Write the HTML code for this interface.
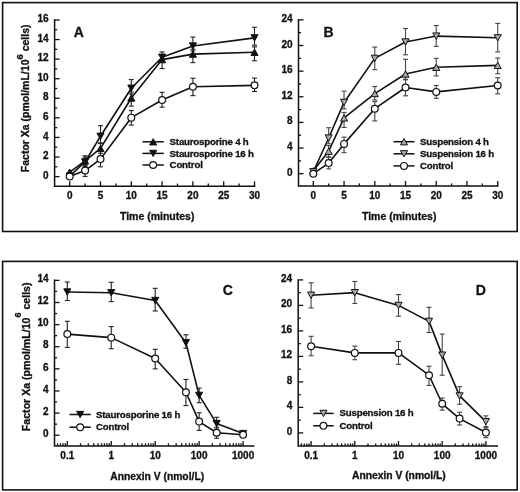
<!DOCTYPE html>
<html><head><meta charset="utf-8"><style>
html,body{margin:0;padding:0;background:#fff;}
svg{display:block;will-change:transform;}
text{font-family:"Liberation Sans",sans-serif;font-weight:bold;fill:#111;stroke:#111;stroke-width:0.3px;}
</style></head><body>
<svg width="520" height="492" viewBox="0 0 520 492">
<rect width="520" height="492" fill="#fff"/>
<rect x="2.6" y="2.6" width="514.6" height="228.9" fill="none" stroke="#111" stroke-width="1.6"/>
<rect x="2.6" y="261.4" width="514.6" height="228.5" fill="none" stroke="#111" stroke-width="1.6"/>
<path d="M54.60,19.96 L54.60,186.20 L254.60,186.20" fill="none" stroke="#111" stroke-width="1.5" stroke-linecap="square"/>
<line x1="54.60" y1="176.60" x2="59.60" y2="176.60" stroke="#111" stroke-width="1.3"/>
<text x="48.60" y="178.70" font-size="10" text-anchor="end" >0</text>
<line x1="54.60" y1="157.02" x2="59.60" y2="157.02" stroke="#111" stroke-width="1.3"/>
<text x="48.60" y="159.12" font-size="10" text-anchor="end" >2</text>
<line x1="54.60" y1="137.44" x2="59.60" y2="137.44" stroke="#111" stroke-width="1.3"/>
<text x="48.60" y="139.54" font-size="10" text-anchor="end" >4</text>
<line x1="54.60" y1="117.86" x2="59.60" y2="117.86" stroke="#111" stroke-width="1.3"/>
<text x="48.60" y="119.96" font-size="10" text-anchor="end" >6</text>
<line x1="54.60" y1="98.28" x2="59.60" y2="98.28" stroke="#111" stroke-width="1.3"/>
<text x="48.60" y="100.38" font-size="10" text-anchor="end" >8</text>
<line x1="54.60" y1="78.70" x2="59.60" y2="78.70" stroke="#111" stroke-width="1.3"/>
<text x="48.60" y="80.80" font-size="10" text-anchor="end" >10</text>
<line x1="54.60" y1="59.12" x2="59.60" y2="59.12" stroke="#111" stroke-width="1.3"/>
<text x="48.60" y="61.22" font-size="10" text-anchor="end" >12</text>
<line x1="54.60" y1="39.54" x2="59.60" y2="39.54" stroke="#111" stroke-width="1.3"/>
<text x="48.60" y="41.64" font-size="10" text-anchor="end" >14</text>
<line x1="54.60" y1="19.96" x2="59.60" y2="19.96" stroke="#111" stroke-width="1.3"/>
<text x="48.60" y="22.06" font-size="10" text-anchor="end" >16</text>
<line x1="54.60" y1="166.81" x2="57.20" y2="166.81" stroke="#111" stroke-width="1.3"/>
<line x1="54.60" y1="147.23" x2="57.20" y2="147.23" stroke="#111" stroke-width="1.3"/>
<line x1="54.60" y1="127.65" x2="57.20" y2="127.65" stroke="#111" stroke-width="1.3"/>
<line x1="54.60" y1="108.07" x2="57.20" y2="108.07" stroke="#111" stroke-width="1.3"/>
<line x1="54.60" y1="88.49" x2="57.20" y2="88.49" stroke="#111" stroke-width="1.3"/>
<line x1="54.60" y1="68.91" x2="57.20" y2="68.91" stroke="#111" stroke-width="1.3"/>
<line x1="54.60" y1="49.33" x2="57.20" y2="49.33" stroke="#111" stroke-width="1.3"/>
<line x1="54.60" y1="29.75" x2="57.20" y2="29.75" stroke="#111" stroke-width="1.3"/>
<line x1="69.70" y1="186.20" x2="69.70" y2="181.20" stroke="#111" stroke-width="1.3"/>
<text x="69.70" y="198.80" font-size="10" text-anchor="middle" >0</text>
<line x1="100.50" y1="186.20" x2="100.50" y2="181.20" stroke="#111" stroke-width="1.3"/>
<text x="100.50" y="198.80" font-size="10" text-anchor="middle" >5</text>
<line x1="131.30" y1="186.20" x2="131.30" y2="181.20" stroke="#111" stroke-width="1.3"/>
<text x="131.30" y="198.80" font-size="10" text-anchor="middle" >10</text>
<line x1="162.10" y1="186.20" x2="162.10" y2="181.20" stroke="#111" stroke-width="1.3"/>
<text x="162.10" y="198.80" font-size="10" text-anchor="middle" >15</text>
<line x1="192.90" y1="186.20" x2="192.90" y2="181.20" stroke="#111" stroke-width="1.3"/>
<text x="192.90" y="198.80" font-size="10" text-anchor="middle" >20</text>
<line x1="223.70" y1="186.20" x2="223.70" y2="181.20" stroke="#111" stroke-width="1.3"/>
<text x="223.70" y="198.80" font-size="10" text-anchor="middle" >25</text>
<line x1="254.50" y1="186.20" x2="254.50" y2="181.20" stroke="#111" stroke-width="1.3"/>
<text x="254.50" y="198.80" font-size="10" text-anchor="middle" >30</text>
<line x1="85.10" y1="186.20" x2="85.10" y2="183.60" stroke="#111" stroke-width="1.3"/>
<line x1="115.90" y1="186.20" x2="115.90" y2="183.60" stroke="#111" stroke-width="1.3"/>
<line x1="146.70" y1="186.20" x2="146.70" y2="183.60" stroke="#111" stroke-width="1.3"/>
<line x1="177.50" y1="186.20" x2="177.50" y2="183.60" stroke="#111" stroke-width="1.3"/>
<line x1="208.30" y1="186.20" x2="208.30" y2="183.60" stroke="#111" stroke-width="1.3"/>
<line x1="239.10" y1="186.20" x2="239.10" y2="183.60" stroke="#111" stroke-width="1.3"/>
<text x="157.20" y="220.00" font-size="10.5" text-anchor="middle" >Time (minutes)</text>
<text transform="translate(29.40,98.30) rotate(-90)" font-size="10.5" text-anchor="middle">Factor Xa (pmol/mL/10<tspan font-size="9.5" dy="-6.6">6</tspan><tspan dy="6.6"> cells)</tspan></text>
<text x="73.80" y="37.00" font-size="14" text-anchor="start" >A</text>
<path d="M69.70,172.19 L85.10,160.94 L100.50,148.40 L131.30,97.99 L162.10,59.61 L192.90,54.13 L254.50,52.27" fill="none" stroke="#111" stroke-width="1.6" stroke-linejoin="round"/>
<path d="M69.70,176.11 L85.10,161.91 L100.50,136.27 L131.30,88.20 L162.10,57.26 L192.90,46.00 L254.50,37.88" fill="none" stroke="#111" stroke-width="1.6" stroke-linejoin="round"/>
<path d="M69.70,176.60 L85.10,170.53 L100.50,159.08 L131.30,117.66 L162.10,99.94 L192.90,86.73 L254.50,85.36" fill="none" stroke="#111" stroke-width="1.6" stroke-linejoin="round"/>
<line x1="85.10" y1="155.75" x2="85.10" y2="165.83" stroke="#222" stroke-width="1.1"/>
<line x1="82.60" y1="155.75" x2="87.60" y2="155.75" stroke="#222" stroke-width="1.1"/>
<line x1="82.60" y1="165.83" x2="87.60" y2="165.83" stroke="#222" stroke-width="1.1"/>
<line x1="100.50" y1="143.51" x2="100.50" y2="153.30" stroke="#222" stroke-width="1.1"/>
<line x1="98.00" y1="143.51" x2="103.00" y2="143.51" stroke="#222" stroke-width="1.1"/>
<line x1="98.00" y1="153.30" x2="103.00" y2="153.30" stroke="#222" stroke-width="1.1"/>
<line x1="131.30" y1="92.11" x2="131.30" y2="106.11" stroke="#222" stroke-width="1.1"/>
<line x1="128.80" y1="92.11" x2="133.80" y2="92.11" stroke="#222" stroke-width="1.1"/>
<line x1="128.80" y1="106.11" x2="133.80" y2="106.11" stroke="#222" stroke-width="1.1"/>
<line x1="162.10" y1="54.71" x2="162.10" y2="68.52" stroke="#222" stroke-width="1.1"/>
<line x1="159.60" y1="54.71" x2="164.60" y2="54.71" stroke="#222" stroke-width="1.1"/>
<line x1="159.60" y1="68.52" x2="164.60" y2="68.52" stroke="#222" stroke-width="1.1"/>
<line x1="192.90" y1="49.23" x2="192.90" y2="62.64" stroke="#222" stroke-width="1.1"/>
<line x1="190.40" y1="49.23" x2="195.40" y2="49.23" stroke="#222" stroke-width="1.1"/>
<line x1="190.40" y1="62.64" x2="195.40" y2="62.64" stroke="#222" stroke-width="1.1"/>
<line x1="254.50" y1="46.88" x2="254.50" y2="60.78" stroke="#222" stroke-width="1.1"/>
<line x1="252.00" y1="46.88" x2="257.00" y2="46.88" stroke="#222" stroke-width="1.1"/>
<line x1="252.00" y1="60.78" x2="257.00" y2="60.78" stroke="#222" stroke-width="1.1"/>
<line x1="85.10" y1="157.02" x2="85.10" y2="166.81" stroke="#222" stroke-width="1.1"/>
<line x1="82.60" y1="157.02" x2="87.60" y2="157.02" stroke="#222" stroke-width="1.1"/>
<line x1="82.60" y1="166.81" x2="87.60" y2="166.81" stroke="#222" stroke-width="1.1"/>
<line x1="100.50" y1="125.69" x2="100.50" y2="142.92" stroke="#222" stroke-width="1.1"/>
<line x1="98.00" y1="125.69" x2="103.00" y2="125.69" stroke="#222" stroke-width="1.1"/>
<line x1="98.00" y1="142.92" x2="103.00" y2="142.92" stroke="#222" stroke-width="1.1"/>
<line x1="131.30" y1="79.58" x2="131.30" y2="94.07" stroke="#222" stroke-width="1.1"/>
<line x1="128.80" y1="79.58" x2="133.80" y2="79.58" stroke="#222" stroke-width="1.1"/>
<line x1="128.80" y1="94.07" x2="133.80" y2="94.07" stroke="#222" stroke-width="1.1"/>
<line x1="162.10" y1="51.97" x2="162.10" y2="62.15" stroke="#222" stroke-width="1.1"/>
<line x1="159.60" y1="51.97" x2="164.60" y2="51.97" stroke="#222" stroke-width="1.1"/>
<line x1="159.60" y1="62.15" x2="164.60" y2="62.15" stroke="#222" stroke-width="1.1"/>
<line x1="192.90" y1="37.09" x2="192.90" y2="50.90" stroke="#222" stroke-width="1.1"/>
<line x1="190.40" y1="37.09" x2="195.40" y2="37.09" stroke="#222" stroke-width="1.1"/>
<line x1="190.40" y1="50.90" x2="195.40" y2="50.90" stroke="#222" stroke-width="1.1"/>
<line x1="254.50" y1="27.30" x2="254.50" y2="45.22" stroke="#222" stroke-width="1.1"/>
<line x1="252.00" y1="27.30" x2="257.00" y2="27.30" stroke="#222" stroke-width="1.1"/>
<line x1="252.00" y1="45.22" x2="257.00" y2="45.22" stroke="#222" stroke-width="1.1"/>
<line x1="85.10" y1="164.66" x2="85.10" y2="176.40" stroke="#222" stroke-width="1.1"/>
<line x1="82.60" y1="164.66" x2="87.60" y2="164.66" stroke="#222" stroke-width="1.1"/>
<line x1="82.60" y1="176.40" x2="87.60" y2="176.40" stroke="#222" stroke-width="1.1"/>
<line x1="100.50" y1="151.24" x2="100.50" y2="166.81" stroke="#222" stroke-width="1.1"/>
<line x1="98.00" y1="151.24" x2="103.00" y2="151.24" stroke="#222" stroke-width="1.1"/>
<line x1="98.00" y1="166.81" x2="103.00" y2="166.81" stroke="#222" stroke-width="1.1"/>
<line x1="131.30" y1="110.62" x2="131.30" y2="125.10" stroke="#222" stroke-width="1.1"/>
<line x1="128.80" y1="110.62" x2="133.80" y2="110.62" stroke="#222" stroke-width="1.1"/>
<line x1="128.80" y1="125.10" x2="133.80" y2="125.10" stroke="#222" stroke-width="1.1"/>
<line x1="162.10" y1="92.31" x2="162.10" y2="107.19" stroke="#222" stroke-width="1.1"/>
<line x1="159.60" y1="92.31" x2="164.60" y2="92.31" stroke="#222" stroke-width="1.1"/>
<line x1="159.60" y1="107.19" x2="164.60" y2="107.19" stroke="#222" stroke-width="1.1"/>
<line x1="192.90" y1="78.21" x2="192.90" y2="95.64" stroke="#222" stroke-width="1.1"/>
<line x1="190.40" y1="78.21" x2="195.40" y2="78.21" stroke="#222" stroke-width="1.1"/>
<line x1="190.40" y1="95.64" x2="195.40" y2="95.64" stroke="#222" stroke-width="1.1"/>
<line x1="254.50" y1="78.11" x2="254.50" y2="91.43" stroke="#222" stroke-width="1.1"/>
<line x1="252.00" y1="78.11" x2="257.00" y2="78.11" stroke="#222" stroke-width="1.1"/>
<line x1="252.00" y1="91.43" x2="257.00" y2="91.43" stroke="#222" stroke-width="1.1"/>
<polygon points="69.70,169.04 73.25,175.34 66.15,175.34" fill="#111" stroke="#111" stroke-width="1.0" stroke-linejoin="miter"/>
<polygon points="85.10,157.79 88.65,164.09 81.55,164.09" fill="#111" stroke="#111" stroke-width="1.0" stroke-linejoin="miter"/>
<polygon points="100.50,145.25 104.05,151.55 96.95,151.55" fill="#111" stroke="#111" stroke-width="1.0" stroke-linejoin="miter"/>
<polygon points="131.30,94.84 134.85,101.14 127.75,101.14" fill="#111" stroke="#111" stroke-width="1.0" stroke-linejoin="miter"/>
<polygon points="162.10,56.46 165.65,62.76 158.55,62.76" fill="#111" stroke="#111" stroke-width="1.0" stroke-linejoin="miter"/>
<polygon points="192.90,50.98 196.45,57.28 189.35,57.28" fill="#111" stroke="#111" stroke-width="1.0" stroke-linejoin="miter"/>
<polygon points="254.50,49.12 258.05,55.42 250.95,55.42" fill="#111" stroke="#111" stroke-width="1.0" stroke-linejoin="miter"/>
<polygon points="69.70,179.26 73.25,172.96 66.15,172.96" fill="#111" stroke="#111" stroke-width="1.0" stroke-linejoin="miter"/>
<polygon points="85.10,165.06 88.65,158.76 81.55,158.76" fill="#111" stroke="#111" stroke-width="1.0" stroke-linejoin="miter"/>
<polygon points="100.50,139.42 104.05,133.12 96.95,133.12" fill="#111" stroke="#111" stroke-width="1.0" stroke-linejoin="miter"/>
<polygon points="131.30,91.35 134.85,85.05 127.75,85.05" fill="#111" stroke="#111" stroke-width="1.0" stroke-linejoin="miter"/>
<polygon points="162.10,60.41 165.65,54.11 158.55,54.11" fill="#111" stroke="#111" stroke-width="1.0" stroke-linejoin="miter"/>
<polygon points="192.90,49.15 196.45,42.85 189.35,42.85" fill="#111" stroke="#111" stroke-width="1.0" stroke-linejoin="miter"/>
<polygon points="254.50,41.03 258.05,34.73 250.95,34.73" fill="#111" stroke="#111" stroke-width="1.0" stroke-linejoin="miter"/>
<circle cx="69.70" cy="176.60" r="3.4" fill="#fff" stroke="#111" stroke-width="1.2"/>
<circle cx="85.10" cy="170.53" r="3.4" fill="#fff" stroke="#111" stroke-width="1.2"/>
<circle cx="100.50" cy="159.08" r="3.4" fill="#fff" stroke="#111" stroke-width="1.2"/>
<circle cx="131.30" cy="117.66" r="3.4" fill="#fff" stroke="#111" stroke-width="1.2"/>
<circle cx="162.10" cy="99.94" r="3.4" fill="#fff" stroke="#111" stroke-width="1.2"/>
<circle cx="192.90" cy="86.73" r="3.4" fill="#fff" stroke="#111" stroke-width="1.2"/>
<circle cx="254.50" cy="85.36" r="3.4" fill="#fff" stroke="#111" stroke-width="1.2"/>
<line x1="142.50" y1="141.80" x2="163.80" y2="141.80" stroke="#111" stroke-width="1.5"/>
<polygon points="153.15,138.65 156.70,144.95 149.60,144.95" fill="#111" stroke="#111" stroke-width="1.0" stroke-linejoin="miter"/>
<text x="169.60" y="145.20" font-size="9.7" text-anchor="start" letter-spacing="-0.2">Staurosporine 4 h</text>
<line x1="142.50" y1="153.40" x2="163.80" y2="153.40" stroke="#111" stroke-width="1.5"/>
<polygon points="153.15,156.55 156.70,150.25 149.60,150.25" fill="#111" stroke="#111" stroke-width="1.0" stroke-linejoin="miter"/>
<text x="169.60" y="156.80" font-size="9.7" text-anchor="start" letter-spacing="-0.2">Staurosporine 16 h</text>
<line x1="142.50" y1="165.00" x2="163.80" y2="165.00" stroke="#111" stroke-width="1.5"/>
<circle cx="153.15" cy="165.00" r="3.4" fill="#fff" stroke="#111" stroke-width="1.2"/>
<text x="169.60" y="168.40" font-size="9.7" text-anchor="start" letter-spacing="-0.2">Control</text>
<path d="M298.50,19.86 L298.50,186.00 L497.80,186.00" fill="none" stroke="#111" stroke-width="1.5" stroke-linecap="square"/>
<line x1="298.50" y1="173.70" x2="303.50" y2="173.70" stroke="#111" stroke-width="1.3"/>
<text x="292.50" y="175.70" font-size="10" text-anchor="end" >0</text>
<line x1="298.50" y1="148.06" x2="303.50" y2="148.06" stroke="#111" stroke-width="1.3"/>
<text x="292.50" y="150.06" font-size="10" text-anchor="end" >4</text>
<line x1="298.50" y1="122.42" x2="303.50" y2="122.42" stroke="#111" stroke-width="1.3"/>
<text x="292.50" y="124.42" font-size="10" text-anchor="end" >8</text>
<line x1="298.50" y1="96.78" x2="303.50" y2="96.78" stroke="#111" stroke-width="1.3"/>
<text x="292.50" y="98.78" font-size="10" text-anchor="end" >12</text>
<line x1="298.50" y1="71.14" x2="303.50" y2="71.14" stroke="#111" stroke-width="1.3"/>
<text x="292.50" y="73.14" font-size="10" text-anchor="end" >16</text>
<line x1="298.50" y1="45.50" x2="303.50" y2="45.50" stroke="#111" stroke-width="1.3"/>
<text x="292.50" y="47.50" font-size="10" text-anchor="end" >20</text>
<line x1="298.50" y1="19.86" x2="303.50" y2="19.86" stroke="#111" stroke-width="1.3"/>
<text x="292.50" y="21.86" font-size="10" text-anchor="end" >24</text>
<line x1="298.50" y1="160.88" x2="301.10" y2="160.88" stroke="#111" stroke-width="1.3"/>
<line x1="298.50" y1="135.24" x2="301.10" y2="135.24" stroke="#111" stroke-width="1.3"/>
<line x1="298.50" y1="109.60" x2="301.10" y2="109.60" stroke="#111" stroke-width="1.3"/>
<line x1="298.50" y1="83.96" x2="301.10" y2="83.96" stroke="#111" stroke-width="1.3"/>
<line x1="298.50" y1="58.32" x2="301.10" y2="58.32" stroke="#111" stroke-width="1.3"/>
<line x1="298.50" y1="32.68" x2="301.10" y2="32.68" stroke="#111" stroke-width="1.3"/>
<line x1="313.30" y1="186.00" x2="313.30" y2="181.00" stroke="#111" stroke-width="1.3"/>
<text x="313.30" y="199.00" font-size="10" text-anchor="middle" >0</text>
<line x1="344.04" y1="186.00" x2="344.04" y2="181.00" stroke="#111" stroke-width="1.3"/>
<text x="344.04" y="199.00" font-size="10" text-anchor="middle" >5</text>
<line x1="374.77" y1="186.00" x2="374.77" y2="181.00" stroke="#111" stroke-width="1.3"/>
<text x="374.77" y="199.00" font-size="10" text-anchor="middle" >10</text>
<line x1="405.50" y1="186.00" x2="405.50" y2="181.00" stroke="#111" stroke-width="1.3"/>
<text x="405.50" y="199.00" font-size="10" text-anchor="middle" >15</text>
<line x1="436.24" y1="186.00" x2="436.24" y2="181.00" stroke="#111" stroke-width="1.3"/>
<text x="436.24" y="199.00" font-size="10" text-anchor="middle" >20</text>
<line x1="466.98" y1="186.00" x2="466.98" y2="181.00" stroke="#111" stroke-width="1.3"/>
<text x="466.98" y="199.00" font-size="10" text-anchor="middle" >25</text>
<line x1="497.71" y1="186.00" x2="497.71" y2="181.00" stroke="#111" stroke-width="1.3"/>
<text x="497.71" y="199.00" font-size="10" text-anchor="middle" >30</text>
<line x1="328.67" y1="186.00" x2="328.67" y2="183.40" stroke="#111" stroke-width="1.3"/>
<line x1="359.40" y1="186.00" x2="359.40" y2="183.40" stroke="#111" stroke-width="1.3"/>
<line x1="390.14" y1="186.00" x2="390.14" y2="183.40" stroke="#111" stroke-width="1.3"/>
<line x1="420.87" y1="186.00" x2="420.87" y2="183.40" stroke="#111" stroke-width="1.3"/>
<line x1="451.61" y1="186.00" x2="451.61" y2="183.40" stroke="#111" stroke-width="1.3"/>
<line x1="482.34" y1="186.00" x2="482.34" y2="183.40" stroke="#111" stroke-width="1.3"/>
<text x="399.20" y="219.60" font-size="10.5" text-anchor="middle" >Time (minutes)</text>
<text x="323.60" y="36.80" font-size="14" text-anchor="start" >B</text>
<path d="M313.30,170.82 L328.67,151.26 L344.04,117.93 L374.77,93.57 L405.50,74.02 L436.24,67.29 L497.71,65.37" fill="none" stroke="#111" stroke-width="1.6" stroke-linejoin="round"/>
<path d="M313.30,171.78 L328.67,138.00 L344.04,102.42 L374.77,58.38 L405.50,41.97 L436.24,36.08 L497.71,37.81" fill="none" stroke="#111" stroke-width="1.6" stroke-linejoin="round"/>
<path d="M313.30,173.70 L328.67,163.12 L344.04,143.89 L374.77,108.70 L405.50,87.49 L436.24,91.91 L497.71,85.50" fill="none" stroke="#111" stroke-width="1.6" stroke-linejoin="round"/>
<line x1="313.30" y1="168.89" x2="313.30" y2="172.74" stroke="#444" stroke-width="1.1"/>
<line x1="310.80" y1="168.89" x2="315.80" y2="168.89" stroke="#444" stroke-width="1.1"/>
<line x1="310.80" y1="172.74" x2="315.80" y2="172.74" stroke="#444" stroke-width="1.1"/>
<line x1="328.67" y1="145.50" x2="328.67" y2="157.03" stroke="#444" stroke-width="1.1"/>
<line x1="326.17" y1="145.50" x2="331.17" y2="145.50" stroke="#444" stroke-width="1.1"/>
<line x1="326.17" y1="157.03" x2="331.17" y2="157.03" stroke="#444" stroke-width="1.1"/>
<line x1="344.04" y1="112.42" x2="344.04" y2="127.42" stroke="#444" stroke-width="1.1"/>
<line x1="341.54" y1="112.42" x2="346.54" y2="112.42" stroke="#444" stroke-width="1.1"/>
<line x1="341.54" y1="127.42" x2="346.54" y2="127.42" stroke="#444" stroke-width="1.1"/>
<line x1="374.77" y1="86.52" x2="374.77" y2="99.98" stroke="#444" stroke-width="1.1"/>
<line x1="372.27" y1="86.52" x2="377.27" y2="86.52" stroke="#444" stroke-width="1.1"/>
<line x1="372.27" y1="99.98" x2="377.27" y2="99.98" stroke="#444" stroke-width="1.1"/>
<line x1="405.50" y1="59.28" x2="405.50" y2="79.34" stroke="#444" stroke-width="1.1"/>
<line x1="403.00" y1="59.28" x2="408.00" y2="59.28" stroke="#444" stroke-width="1.1"/>
<line x1="403.00" y1="79.34" x2="408.00" y2="79.34" stroke="#444" stroke-width="1.1"/>
<line x1="436.24" y1="58.32" x2="436.24" y2="75.95" stroke="#444" stroke-width="1.1"/>
<line x1="433.74" y1="58.32" x2="438.74" y2="58.32" stroke="#444" stroke-width="1.1"/>
<line x1="433.74" y1="75.95" x2="438.74" y2="75.95" stroke="#444" stroke-width="1.1"/>
<line x1="497.71" y1="58.00" x2="497.71" y2="73.70" stroke="#444" stroke-width="1.1"/>
<line x1="495.21" y1="58.00" x2="500.21" y2="58.00" stroke="#444" stroke-width="1.1"/>
<line x1="495.21" y1="73.70" x2="500.21" y2="73.70" stroke="#444" stroke-width="1.1"/>
<line x1="313.30" y1="169.85" x2="313.30" y2="173.70" stroke="#444" stroke-width="1.1"/>
<line x1="310.80" y1="169.85" x2="315.80" y2="169.85" stroke="#444" stroke-width="1.1"/>
<line x1="310.80" y1="173.70" x2="315.80" y2="173.70" stroke="#444" stroke-width="1.1"/>
<line x1="328.67" y1="127.74" x2="328.67" y2="143.77" stroke="#444" stroke-width="1.1"/>
<line x1="326.17" y1="127.74" x2="331.17" y2="127.74" stroke="#444" stroke-width="1.1"/>
<line x1="326.17" y1="143.77" x2="331.17" y2="143.77" stroke="#444" stroke-width="1.1"/>
<line x1="344.04" y1="91.14" x2="344.04" y2="108.83" stroke="#444" stroke-width="1.1"/>
<line x1="341.54" y1="91.14" x2="346.54" y2="91.14" stroke="#444" stroke-width="1.1"/>
<line x1="341.54" y1="108.83" x2="346.54" y2="108.83" stroke="#444" stroke-width="1.1"/>
<line x1="374.77" y1="47.10" x2="374.77" y2="69.67" stroke="#444" stroke-width="1.1"/>
<line x1="372.27" y1="47.10" x2="377.27" y2="47.10" stroke="#444" stroke-width="1.1"/>
<line x1="372.27" y1="69.67" x2="377.27" y2="69.67" stroke="#444" stroke-width="1.1"/>
<line x1="405.50" y1="28.51" x2="405.50" y2="54.79" stroke="#444" stroke-width="1.1"/>
<line x1="403.00" y1="28.51" x2="408.00" y2="28.51" stroke="#444" stroke-width="1.1"/>
<line x1="403.00" y1="54.79" x2="408.00" y2="54.79" stroke="#444" stroke-width="1.1"/>
<line x1="436.24" y1="25.50" x2="436.24" y2="46.33" stroke="#444" stroke-width="1.1"/>
<line x1="433.74" y1="25.50" x2="438.74" y2="25.50" stroke="#444" stroke-width="1.1"/>
<line x1="433.74" y1="46.33" x2="438.74" y2="46.33" stroke="#444" stroke-width="1.1"/>
<line x1="497.71" y1="23.39" x2="497.71" y2="51.91" stroke="#444" stroke-width="1.1"/>
<line x1="495.21" y1="23.39" x2="500.21" y2="23.39" stroke="#444" stroke-width="1.1"/>
<line x1="495.21" y1="51.91" x2="500.21" y2="51.91" stroke="#444" stroke-width="1.1"/>
<line x1="328.67" y1="157.10" x2="328.67" y2="168.89" stroke="#444" stroke-width="1.1"/>
<line x1="326.17" y1="157.10" x2="331.17" y2="157.10" stroke="#444" stroke-width="1.1"/>
<line x1="326.17" y1="168.89" x2="331.17" y2="168.89" stroke="#444" stroke-width="1.1"/>
<line x1="344.04" y1="137.10" x2="344.04" y2="152.68" stroke="#444" stroke-width="1.1"/>
<line x1="341.54" y1="137.10" x2="346.54" y2="137.10" stroke="#444" stroke-width="1.1"/>
<line x1="341.54" y1="152.68" x2="346.54" y2="152.68" stroke="#444" stroke-width="1.1"/>
<line x1="374.77" y1="101.65" x2="374.77" y2="120.88" stroke="#444" stroke-width="1.1"/>
<line x1="372.27" y1="101.65" x2="377.27" y2="101.65" stroke="#444" stroke-width="1.1"/>
<line x1="372.27" y1="120.88" x2="377.27" y2="120.88" stroke="#444" stroke-width="1.1"/>
<line x1="405.50" y1="79.79" x2="405.50" y2="95.82" stroke="#444" stroke-width="1.1"/>
<line x1="403.00" y1="79.79" x2="408.00" y2="79.79" stroke="#444" stroke-width="1.1"/>
<line x1="403.00" y1="95.82" x2="408.00" y2="95.82" stroke="#444" stroke-width="1.1"/>
<line x1="436.24" y1="85.50" x2="436.24" y2="98.32" stroke="#444" stroke-width="1.1"/>
<line x1="433.74" y1="85.50" x2="438.74" y2="85.50" stroke="#444" stroke-width="1.1"/>
<line x1="433.74" y1="98.32" x2="438.74" y2="98.32" stroke="#444" stroke-width="1.1"/>
<line x1="497.71" y1="77.81" x2="497.71" y2="93.83" stroke="#444" stroke-width="1.1"/>
<line x1="495.21" y1="77.81" x2="500.21" y2="77.81" stroke="#444" stroke-width="1.1"/>
<line x1="495.21" y1="93.83" x2="500.21" y2="93.83" stroke="#444" stroke-width="1.1"/>
<polygon points="313.30,167.67 316.85,173.97 309.75,173.97" fill="#a8a8a8" stroke="#111" stroke-width="1.0" stroke-linejoin="miter"/>
<polygon points="328.67,148.11 332.22,154.41 325.12,154.41" fill="#a8a8a8" stroke="#111" stroke-width="1.0" stroke-linejoin="miter"/>
<polygon points="344.04,114.78 347.59,121.08 340.49,121.08" fill="#a8a8a8" stroke="#111" stroke-width="1.0" stroke-linejoin="miter"/>
<polygon points="374.77,90.42 378.32,96.72 371.22,96.72" fill="#a8a8a8" stroke="#111" stroke-width="1.0" stroke-linejoin="miter"/>
<polygon points="405.50,70.87 409.06,77.17 401.95,77.17" fill="#a8a8a8" stroke="#111" stroke-width="1.0" stroke-linejoin="miter"/>
<polygon points="436.24,64.14 439.79,70.44 432.69,70.44" fill="#a8a8a8" stroke="#111" stroke-width="1.0" stroke-linejoin="miter"/>
<polygon points="497.71,62.22 501.26,68.52 494.16,68.52" fill="#a8a8a8" stroke="#111" stroke-width="1.0" stroke-linejoin="miter"/>
<polygon points="313.30,174.93 316.85,168.63 309.75,168.63" fill="#a8a8a8" stroke="#111" stroke-width="1.0" stroke-linejoin="miter"/>
<polygon points="328.67,141.15 332.22,134.85 325.12,134.85" fill="#a8a8a8" stroke="#111" stroke-width="1.0" stroke-linejoin="miter"/>
<polygon points="344.04,105.57 347.59,99.27 340.49,99.27" fill="#a8a8a8" stroke="#111" stroke-width="1.0" stroke-linejoin="miter"/>
<polygon points="374.77,61.53 378.32,55.23 371.22,55.23" fill="#a8a8a8" stroke="#111" stroke-width="1.0" stroke-linejoin="miter"/>
<polygon points="405.50,45.12 409.06,38.82 401.95,38.82" fill="#a8a8a8" stroke="#111" stroke-width="1.0" stroke-linejoin="miter"/>
<polygon points="436.24,39.23 439.79,32.93 432.69,32.93" fill="#a8a8a8" stroke="#111" stroke-width="1.0" stroke-linejoin="miter"/>
<polygon points="497.71,40.96 501.26,34.66 494.16,34.66" fill="#a8a8a8" stroke="#111" stroke-width="1.0" stroke-linejoin="miter"/>
<circle cx="313.30" cy="173.70" r="3.4" fill="#fff" stroke="#111" stroke-width="1.2"/>
<circle cx="328.67" cy="163.12" r="3.4" fill="#fff" stroke="#111" stroke-width="1.2"/>
<circle cx="344.04" cy="143.89" r="3.4" fill="#fff" stroke="#111" stroke-width="1.2"/>
<circle cx="374.77" cy="108.70" r="3.4" fill="#fff" stroke="#111" stroke-width="1.2"/>
<circle cx="405.50" cy="87.49" r="3.4" fill="#fff" stroke="#111" stroke-width="1.2"/>
<circle cx="436.24" cy="91.91" r="3.4" fill="#fff" stroke="#111" stroke-width="1.2"/>
<circle cx="497.71" cy="85.50" r="3.4" fill="#fff" stroke="#111" stroke-width="1.2"/>
<line x1="393.50" y1="141.70" x2="414.50" y2="141.70" stroke="#111" stroke-width="1.5"/>
<polygon points="404.00,138.55 407.55,144.85 400.45,144.85" fill="#a8a8a8" stroke="#111" stroke-width="1.0" stroke-linejoin="miter"/>
<text x="420.00" y="145.00" font-size="9.7" text-anchor="start" letter-spacing="-0.2">Suspension 4 h</text>
<line x1="393.50" y1="153.80" x2="414.50" y2="153.80" stroke="#111" stroke-width="1.5"/>
<polygon points="404.00,156.95 407.55,150.65 400.45,150.65" fill="#a8a8a8" stroke="#111" stroke-width="1.0" stroke-linejoin="miter"/>
<text x="420.00" y="157.10" font-size="9.7" text-anchor="start" letter-spacing="-0.2">Suspension 16 h</text>
<line x1="393.50" y1="165.90" x2="414.50" y2="165.90" stroke="#111" stroke-width="1.5"/>
<circle cx="404.00" cy="165.90" r="3.4" fill="#fff" stroke="#111" stroke-width="1.2"/>
<text x="420.00" y="169.20" font-size="9.7" text-anchor="start" letter-spacing="-0.2">Control</text>
<path d="M54.50,280.36 L54.50,445.90 L253.70,445.90" fill="none" stroke="#111" stroke-width="1.5" stroke-linecap="square"/>
<line x1="54.50" y1="435.20" x2="59.50" y2="435.20" stroke="#111" stroke-width="1.3"/>
<text x="48.50" y="436.90" font-size="10" text-anchor="end" >0</text>
<line x1="54.50" y1="413.08" x2="59.50" y2="413.08" stroke="#111" stroke-width="1.3"/>
<text x="48.50" y="414.78" font-size="10" text-anchor="end" >2</text>
<line x1="54.50" y1="390.96" x2="59.50" y2="390.96" stroke="#111" stroke-width="1.3"/>
<text x="48.50" y="392.66" font-size="10" text-anchor="end" >4</text>
<line x1="54.50" y1="368.84" x2="59.50" y2="368.84" stroke="#111" stroke-width="1.3"/>
<text x="48.50" y="370.54" font-size="10" text-anchor="end" >6</text>
<line x1="54.50" y1="346.72" x2="59.50" y2="346.72" stroke="#111" stroke-width="1.3"/>
<text x="48.50" y="348.42" font-size="10" text-anchor="end" >8</text>
<line x1="54.50" y1="324.60" x2="59.50" y2="324.60" stroke="#111" stroke-width="1.3"/>
<text x="48.50" y="326.30" font-size="10" text-anchor="end" >10</text>
<line x1="54.50" y1="302.48" x2="59.50" y2="302.48" stroke="#111" stroke-width="1.3"/>
<text x="48.50" y="304.18" font-size="10" text-anchor="end" >12</text>
<line x1="54.50" y1="280.36" x2="59.50" y2="280.36" stroke="#111" stroke-width="1.3"/>
<text x="48.50" y="282.06" font-size="10" text-anchor="end" >14</text>
<line x1="54.50" y1="424.14" x2="57.10" y2="424.14" stroke="#111" stroke-width="1.3"/>
<line x1="54.50" y1="402.02" x2="57.10" y2="402.02" stroke="#111" stroke-width="1.3"/>
<line x1="54.50" y1="379.90" x2="57.10" y2="379.90" stroke="#111" stroke-width="1.3"/>
<line x1="54.50" y1="357.78" x2="57.10" y2="357.78" stroke="#111" stroke-width="1.3"/>
<line x1="54.50" y1="335.66" x2="57.10" y2="335.66" stroke="#111" stroke-width="1.3"/>
<line x1="54.50" y1="313.54" x2="57.10" y2="313.54" stroke="#111" stroke-width="1.3"/>
<line x1="54.50" y1="291.42" x2="57.10" y2="291.42" stroke="#111" stroke-width="1.3"/>
<line x1="67.30" y1="445.90" x2="67.30" y2="440.90" stroke="#111" stroke-width="1.3"/>
<text x="67.30" y="459.10" font-size="10" text-anchor="middle" >0.1</text>
<line x1="111.25" y1="445.90" x2="111.25" y2="440.90" stroke="#111" stroke-width="1.3"/>
<text x="111.25" y="459.10" font-size="10" text-anchor="middle" >1</text>
<line x1="155.20" y1="445.90" x2="155.20" y2="440.90" stroke="#111" stroke-width="1.3"/>
<text x="155.20" y="459.10" font-size="10" text-anchor="middle" >10</text>
<line x1="199.15" y1="445.90" x2="199.15" y2="440.90" stroke="#111" stroke-width="1.3"/>
<text x="199.15" y="459.10" font-size="10" text-anchor="middle" >100</text>
<line x1="243.10" y1="445.90" x2="243.10" y2="440.90" stroke="#111" stroke-width="1.3"/>
<text x="243.10" y="459.10" font-size="10" text-anchor="middle" >1000</text>
<line x1="57.55" y1="445.90" x2="57.55" y2="443.30" stroke="#111" stroke-width="1.3"/>
<line x1="60.49" y1="445.90" x2="60.49" y2="443.30" stroke="#111" stroke-width="1.3"/>
<line x1="63.04" y1="445.90" x2="63.04" y2="443.30" stroke="#111" stroke-width="1.3"/>
<line x1="65.29" y1="445.90" x2="65.29" y2="443.30" stroke="#111" stroke-width="1.3"/>
<line x1="80.53" y1="445.90" x2="80.53" y2="443.30" stroke="#111" stroke-width="1.3"/>
<line x1="88.27" y1="445.90" x2="88.27" y2="443.30" stroke="#111" stroke-width="1.3"/>
<line x1="93.76" y1="445.90" x2="93.76" y2="443.30" stroke="#111" stroke-width="1.3"/>
<line x1="98.02" y1="445.90" x2="98.02" y2="443.30" stroke="#111" stroke-width="1.3"/>
<line x1="101.50" y1="445.90" x2="101.50" y2="443.30" stroke="#111" stroke-width="1.3"/>
<line x1="104.44" y1="445.90" x2="104.44" y2="443.30" stroke="#111" stroke-width="1.3"/>
<line x1="106.99" y1="445.90" x2="106.99" y2="443.30" stroke="#111" stroke-width="1.3"/>
<line x1="109.24" y1="445.90" x2="109.24" y2="443.30" stroke="#111" stroke-width="1.3"/>
<line x1="124.48" y1="445.90" x2="124.48" y2="443.30" stroke="#111" stroke-width="1.3"/>
<line x1="132.22" y1="445.90" x2="132.22" y2="443.30" stroke="#111" stroke-width="1.3"/>
<line x1="137.71" y1="445.90" x2="137.71" y2="443.30" stroke="#111" stroke-width="1.3"/>
<line x1="141.97" y1="445.90" x2="141.97" y2="443.30" stroke="#111" stroke-width="1.3"/>
<line x1="145.45" y1="445.90" x2="145.45" y2="443.30" stroke="#111" stroke-width="1.3"/>
<line x1="148.39" y1="445.90" x2="148.39" y2="443.30" stroke="#111" stroke-width="1.3"/>
<line x1="150.94" y1="445.90" x2="150.94" y2="443.30" stroke="#111" stroke-width="1.3"/>
<line x1="153.19" y1="445.90" x2="153.19" y2="443.30" stroke="#111" stroke-width="1.3"/>
<line x1="168.43" y1="445.90" x2="168.43" y2="443.30" stroke="#111" stroke-width="1.3"/>
<line x1="176.17" y1="445.90" x2="176.17" y2="443.30" stroke="#111" stroke-width="1.3"/>
<line x1="181.66" y1="445.90" x2="181.66" y2="443.30" stroke="#111" stroke-width="1.3"/>
<line x1="185.92" y1="445.90" x2="185.92" y2="443.30" stroke="#111" stroke-width="1.3"/>
<line x1="189.40" y1="445.90" x2="189.40" y2="443.30" stroke="#111" stroke-width="1.3"/>
<line x1="192.34" y1="445.90" x2="192.34" y2="443.30" stroke="#111" stroke-width="1.3"/>
<line x1="194.89" y1="445.90" x2="194.89" y2="443.30" stroke="#111" stroke-width="1.3"/>
<line x1="197.14" y1="445.90" x2="197.14" y2="443.30" stroke="#111" stroke-width="1.3"/>
<line x1="212.38" y1="445.90" x2="212.38" y2="443.30" stroke="#111" stroke-width="1.3"/>
<line x1="220.12" y1="445.90" x2="220.12" y2="443.30" stroke="#111" stroke-width="1.3"/>
<line x1="225.61" y1="445.90" x2="225.61" y2="443.30" stroke="#111" stroke-width="1.3"/>
<line x1="229.87" y1="445.90" x2="229.87" y2="443.30" stroke="#111" stroke-width="1.3"/>
<line x1="233.35" y1="445.90" x2="233.35" y2="443.30" stroke="#111" stroke-width="1.3"/>
<line x1="236.29" y1="445.90" x2="236.29" y2="443.30" stroke="#111" stroke-width="1.3"/>
<line x1="238.84" y1="445.90" x2="238.84" y2="443.30" stroke="#111" stroke-width="1.3"/>
<line x1="241.09" y1="445.90" x2="241.09" y2="443.30" stroke="#111" stroke-width="1.3"/>
<text x="157.20" y="479.80" font-size="10.3" text-anchor="middle" >Annexin V (nmol/L)</text>
<text transform="translate(29.80,356.80) rotate(-90)" font-size="10.6" text-anchor="middle">Factor Xa (pmol/mL/10<tspan font-size="9" dy="-8.5">6</tspan><tspan dy="8.5"> cells)</tspan></text>
<text x="222.70" y="295.20" font-size="14" text-anchor="start" >C</text>
<path d="M67.30,291.97 L111.25,292.75 L155.20,300.49 L185.92,342.74 L199.15,395.38 L216.64,423.59 L243.10,433.54" fill="none" stroke="#111" stroke-width="1.6" stroke-linejoin="round"/>
<path d="M67.30,334.11 L111.25,337.65 L155.20,358.55 L185.92,392.29 L199.15,421.60 L216.64,432.77 L243.10,434.76" fill="none" stroke="#111" stroke-width="1.6" stroke-linejoin="round"/>
<line x1="67.30" y1="282.02" x2="67.30" y2="300.49" stroke="#222" stroke-width="1.1"/>
<line x1="64.80" y1="282.02" x2="69.80" y2="282.02" stroke="#222" stroke-width="1.1"/>
<line x1="64.80" y1="300.49" x2="69.80" y2="300.49" stroke="#222" stroke-width="1.1"/>
<line x1="111.25" y1="282.24" x2="111.25" y2="301.60" stroke="#222" stroke-width="1.1"/>
<line x1="108.75" y1="282.24" x2="113.75" y2="282.24" stroke="#222" stroke-width="1.1"/>
<line x1="108.75" y1="301.60" x2="113.75" y2="301.60" stroke="#222" stroke-width="1.1"/>
<line x1="155.20" y1="288.32" x2="155.20" y2="311.00" stroke="#222" stroke-width="1.1"/>
<line x1="152.70" y1="288.32" x2="157.70" y2="288.32" stroke="#222" stroke-width="1.1"/>
<line x1="152.70" y1="311.00" x2="157.70" y2="311.00" stroke="#222" stroke-width="1.1"/>
<line x1="185.92" y1="334.78" x2="185.92" y2="348.27" stroke="#222" stroke-width="1.1"/>
<line x1="183.42" y1="334.78" x2="188.42" y2="334.78" stroke="#222" stroke-width="1.1"/>
<line x1="183.42" y1="348.27" x2="188.42" y2="348.27" stroke="#222" stroke-width="1.1"/>
<line x1="199.15" y1="388.08" x2="199.15" y2="402.68" stroke="#222" stroke-width="1.1"/>
<line x1="196.65" y1="388.08" x2="201.65" y2="388.08" stroke="#222" stroke-width="1.1"/>
<line x1="196.65" y1="402.68" x2="201.65" y2="402.68" stroke="#222" stroke-width="1.1"/>
<line x1="216.64" y1="417.28" x2="216.64" y2="429.12" stroke="#222" stroke-width="1.1"/>
<line x1="214.14" y1="417.28" x2="219.14" y2="417.28" stroke="#222" stroke-width="1.1"/>
<line x1="214.14" y1="429.12" x2="219.14" y2="429.12" stroke="#222" stroke-width="1.1"/>
<line x1="67.30" y1="321.28" x2="67.30" y2="347.38" stroke="#222" stroke-width="1.1"/>
<line x1="64.80" y1="321.28" x2="69.80" y2="321.28" stroke="#222" stroke-width="1.1"/>
<line x1="64.80" y1="347.38" x2="69.80" y2="347.38" stroke="#222" stroke-width="1.1"/>
<line x1="111.25" y1="326.59" x2="111.25" y2="348.71" stroke="#222" stroke-width="1.1"/>
<line x1="108.75" y1="326.59" x2="113.75" y2="326.59" stroke="#222" stroke-width="1.1"/>
<line x1="108.75" y1="348.71" x2="113.75" y2="348.71" stroke="#222" stroke-width="1.1"/>
<line x1="155.20" y1="349.37" x2="155.20" y2="368.84" stroke="#222" stroke-width="1.1"/>
<line x1="152.70" y1="349.37" x2="157.70" y2="349.37" stroke="#222" stroke-width="1.1"/>
<line x1="152.70" y1="368.84" x2="157.70" y2="368.84" stroke="#222" stroke-width="1.1"/>
<line x1="185.92" y1="379.46" x2="185.92" y2="405.56" stroke="#222" stroke-width="1.1"/>
<line x1="183.42" y1="379.46" x2="188.42" y2="379.46" stroke="#222" stroke-width="1.1"/>
<line x1="183.42" y1="405.56" x2="188.42" y2="405.56" stroke="#222" stroke-width="1.1"/>
<line x1="199.15" y1="412.75" x2="199.15" y2="430.44" stroke="#222" stroke-width="1.1"/>
<line x1="196.65" y1="412.75" x2="201.65" y2="412.75" stroke="#222" stroke-width="1.1"/>
<line x1="196.65" y1="430.44" x2="201.65" y2="430.44" stroke="#222" stroke-width="1.1"/>
<line x1="216.64" y1="427.24" x2="216.64" y2="438.30" stroke="#222" stroke-width="1.1"/>
<line x1="214.14" y1="427.24" x2="219.14" y2="427.24" stroke="#222" stroke-width="1.1"/>
<line x1="214.14" y1="438.30" x2="219.14" y2="438.30" stroke="#222" stroke-width="1.1"/>
<polygon points="67.30,295.12 70.85,288.82 63.75,288.82" fill="#111" stroke="#111" stroke-width="1.0" stroke-linejoin="miter"/>
<polygon points="111.25,295.90 114.80,289.60 107.70,289.60" fill="#111" stroke="#111" stroke-width="1.0" stroke-linejoin="miter"/>
<polygon points="155.20,303.64 158.75,297.34 151.65,297.34" fill="#111" stroke="#111" stroke-width="1.0" stroke-linejoin="miter"/>
<polygon points="185.92,345.89 189.47,339.59 182.37,339.59" fill="#111" stroke="#111" stroke-width="1.0" stroke-linejoin="miter"/>
<polygon points="199.15,398.53 202.70,392.23 195.60,392.23" fill="#111" stroke="#111" stroke-width="1.0" stroke-linejoin="miter"/>
<polygon points="216.64,426.74 220.19,420.44 213.09,420.44" fill="#111" stroke="#111" stroke-width="1.0" stroke-linejoin="miter"/>
<polygon points="243.10,436.69 246.65,430.39 239.55,430.39" fill="#111" stroke="#111" stroke-width="1.0" stroke-linejoin="miter"/>
<circle cx="67.30" cy="334.11" r="3.4" fill="#fff" stroke="#111" stroke-width="1.2"/>
<circle cx="111.25" cy="337.65" r="3.4" fill="#fff" stroke="#111" stroke-width="1.2"/>
<circle cx="155.20" cy="358.55" r="3.4" fill="#fff" stroke="#111" stroke-width="1.2"/>
<circle cx="185.92" cy="392.29" r="3.4" fill="#fff" stroke="#111" stroke-width="1.2"/>
<circle cx="199.15" cy="421.60" r="3.4" fill="#fff" stroke="#111" stroke-width="1.2"/>
<circle cx="216.64" cy="432.77" r="3.4" fill="#fff" stroke="#111" stroke-width="1.2"/>
<circle cx="243.10" cy="434.76" r="3.4" fill="#fff" stroke="#111" stroke-width="1.2"/>
<line x1="69.50" y1="414.50" x2="90.80" y2="414.50" stroke="#111" stroke-width="1.5"/>
<polygon points="80.15,417.65 83.70,411.35 76.60,411.35" fill="#111" stroke="#111" stroke-width="1.0" stroke-linejoin="miter"/>
<text x="96.00" y="417.50" font-size="9.7" text-anchor="start" letter-spacing="-0.2">Staurosporine 16 h</text>
<line x1="69.50" y1="427.20" x2="90.80" y2="427.20" stroke="#111" stroke-width="1.5"/>
<circle cx="80.15" cy="427.20" r="3.4" fill="#fff" stroke="#111" stroke-width="1.2"/>
<text x="96.00" y="430.20" font-size="9.7" text-anchor="start" letter-spacing="-0.2">Control</text>
<path d="M298.20,279.90 L298.20,446.00 L497.30,446.00" fill="none" stroke="#111" stroke-width="1.5" stroke-linecap="square"/>
<line x1="298.20" y1="432.90" x2="303.20" y2="432.90" stroke="#111" stroke-width="1.3"/>
<text x="292.20" y="434.70" font-size="10" text-anchor="end" >0</text>
<line x1="298.20" y1="407.40" x2="303.20" y2="407.40" stroke="#111" stroke-width="1.3"/>
<text x="292.20" y="409.20" font-size="10" text-anchor="end" >4</text>
<line x1="298.20" y1="381.90" x2="303.20" y2="381.90" stroke="#111" stroke-width="1.3"/>
<text x="292.20" y="383.70" font-size="10" text-anchor="end" >8</text>
<line x1="298.20" y1="356.40" x2="303.20" y2="356.40" stroke="#111" stroke-width="1.3"/>
<text x="292.20" y="358.20" font-size="10" text-anchor="end" >12</text>
<line x1="298.20" y1="330.90" x2="303.20" y2="330.90" stroke="#111" stroke-width="1.3"/>
<text x="292.20" y="332.70" font-size="10" text-anchor="end" >16</text>
<line x1="298.20" y1="305.40" x2="303.20" y2="305.40" stroke="#111" stroke-width="1.3"/>
<text x="292.20" y="307.20" font-size="10" text-anchor="end" >20</text>
<line x1="298.20" y1="279.90" x2="303.20" y2="279.90" stroke="#111" stroke-width="1.3"/>
<text x="292.20" y="281.70" font-size="10" text-anchor="end" >24</text>
<line x1="298.20" y1="420.15" x2="300.80" y2="420.15" stroke="#111" stroke-width="1.3"/>
<line x1="298.20" y1="394.65" x2="300.80" y2="394.65" stroke="#111" stroke-width="1.3"/>
<line x1="298.20" y1="369.15" x2="300.80" y2="369.15" stroke="#111" stroke-width="1.3"/>
<line x1="298.20" y1="343.65" x2="300.80" y2="343.65" stroke="#111" stroke-width="1.3"/>
<line x1="298.20" y1="318.15" x2="300.80" y2="318.15" stroke="#111" stroke-width="1.3"/>
<line x1="298.20" y1="292.65" x2="300.80" y2="292.65" stroke="#111" stroke-width="1.3"/>
<line x1="311.10" y1="446.00" x2="311.10" y2="441.00" stroke="#111" stroke-width="1.3"/>
<text x="311.10" y="458.70" font-size="10" text-anchor="middle" >0.1</text>
<line x1="354.80" y1="446.00" x2="354.80" y2="441.00" stroke="#111" stroke-width="1.3"/>
<text x="354.80" y="458.70" font-size="10" text-anchor="middle" >1</text>
<line x1="398.50" y1="446.00" x2="398.50" y2="441.00" stroke="#111" stroke-width="1.3"/>
<text x="398.50" y="458.70" font-size="10" text-anchor="middle" >10</text>
<line x1="442.20" y1="446.00" x2="442.20" y2="441.00" stroke="#111" stroke-width="1.3"/>
<text x="442.20" y="458.70" font-size="10" text-anchor="middle" >100</text>
<line x1="485.90" y1="446.00" x2="485.90" y2="441.00" stroke="#111" stroke-width="1.3"/>
<text x="485.90" y="458.70" font-size="10" text-anchor="middle" >1000</text>
<line x1="301.41" y1="446.00" x2="301.41" y2="443.40" stroke="#111" stroke-width="1.3"/>
<line x1="304.33" y1="446.00" x2="304.33" y2="443.40" stroke="#111" stroke-width="1.3"/>
<line x1="306.87" y1="446.00" x2="306.87" y2="443.40" stroke="#111" stroke-width="1.3"/>
<line x1="309.10" y1="446.00" x2="309.10" y2="443.40" stroke="#111" stroke-width="1.3"/>
<line x1="324.26" y1="446.00" x2="324.26" y2="443.40" stroke="#111" stroke-width="1.3"/>
<line x1="331.95" y1="446.00" x2="331.95" y2="443.40" stroke="#111" stroke-width="1.3"/>
<line x1="337.41" y1="446.00" x2="337.41" y2="443.40" stroke="#111" stroke-width="1.3"/>
<line x1="341.64" y1="446.00" x2="341.64" y2="443.40" stroke="#111" stroke-width="1.3"/>
<line x1="345.11" y1="446.00" x2="345.11" y2="443.40" stroke="#111" stroke-width="1.3"/>
<line x1="348.03" y1="446.00" x2="348.03" y2="443.40" stroke="#111" stroke-width="1.3"/>
<line x1="350.57" y1="446.00" x2="350.57" y2="443.40" stroke="#111" stroke-width="1.3"/>
<line x1="352.80" y1="446.00" x2="352.80" y2="443.40" stroke="#111" stroke-width="1.3"/>
<line x1="367.96" y1="446.00" x2="367.96" y2="443.40" stroke="#111" stroke-width="1.3"/>
<line x1="375.65" y1="446.00" x2="375.65" y2="443.40" stroke="#111" stroke-width="1.3"/>
<line x1="381.11" y1="446.00" x2="381.11" y2="443.40" stroke="#111" stroke-width="1.3"/>
<line x1="385.34" y1="446.00" x2="385.34" y2="443.40" stroke="#111" stroke-width="1.3"/>
<line x1="388.81" y1="446.00" x2="388.81" y2="443.40" stroke="#111" stroke-width="1.3"/>
<line x1="391.73" y1="446.00" x2="391.73" y2="443.40" stroke="#111" stroke-width="1.3"/>
<line x1="394.27" y1="446.00" x2="394.27" y2="443.40" stroke="#111" stroke-width="1.3"/>
<line x1="396.50" y1="446.00" x2="396.50" y2="443.40" stroke="#111" stroke-width="1.3"/>
<line x1="411.66" y1="446.00" x2="411.66" y2="443.40" stroke="#111" stroke-width="1.3"/>
<line x1="419.35" y1="446.00" x2="419.35" y2="443.40" stroke="#111" stroke-width="1.3"/>
<line x1="424.81" y1="446.00" x2="424.81" y2="443.40" stroke="#111" stroke-width="1.3"/>
<line x1="429.04" y1="446.00" x2="429.04" y2="443.40" stroke="#111" stroke-width="1.3"/>
<line x1="432.51" y1="446.00" x2="432.51" y2="443.40" stroke="#111" stroke-width="1.3"/>
<line x1="435.43" y1="446.00" x2="435.43" y2="443.40" stroke="#111" stroke-width="1.3"/>
<line x1="437.97" y1="446.00" x2="437.97" y2="443.40" stroke="#111" stroke-width="1.3"/>
<line x1="440.20" y1="446.00" x2="440.20" y2="443.40" stroke="#111" stroke-width="1.3"/>
<line x1="455.36" y1="446.00" x2="455.36" y2="443.40" stroke="#111" stroke-width="1.3"/>
<line x1="463.05" y1="446.00" x2="463.05" y2="443.40" stroke="#111" stroke-width="1.3"/>
<line x1="468.51" y1="446.00" x2="468.51" y2="443.40" stroke="#111" stroke-width="1.3"/>
<line x1="472.74" y1="446.00" x2="472.74" y2="443.40" stroke="#111" stroke-width="1.3"/>
<line x1="476.21" y1="446.00" x2="476.21" y2="443.40" stroke="#111" stroke-width="1.3"/>
<line x1="479.13" y1="446.00" x2="479.13" y2="443.40" stroke="#111" stroke-width="1.3"/>
<line x1="481.67" y1="446.00" x2="481.67" y2="443.40" stroke="#111" stroke-width="1.3"/>
<line x1="483.90" y1="446.00" x2="483.90" y2="443.40" stroke="#111" stroke-width="1.3"/>
<text x="398.90" y="479.20" font-size="10.3" text-anchor="middle" >Annexin V (nmol/L)</text>
<text x="475.80" y="295.30" font-size="14" text-anchor="start" >D</text>
<path d="M311.10,295.20 L354.80,292.65 L398.50,305.40 L429.04,321.34 L442.20,355.12 L459.59,395.92 L485.90,421.62" fill="none" stroke="#111" stroke-width="1.6" stroke-linejoin="round"/>
<path d="M311.10,346.20 L354.80,352.89 L398.50,352.89 L429.04,375.21 L442.20,403.77 L459.59,418.62 L485.90,432.58" fill="none" stroke="#111" stroke-width="1.6" stroke-linejoin="round"/>
<line x1="311.10" y1="282.77" x2="311.10" y2="307.95" stroke="#444" stroke-width="1.1"/>
<line x1="308.60" y1="282.77" x2="313.60" y2="282.77" stroke="#444" stroke-width="1.1"/>
<line x1="308.60" y1="307.95" x2="313.60" y2="307.95" stroke="#444" stroke-width="1.1"/>
<line x1="354.80" y1="281.49" x2="354.80" y2="303.49" stroke="#444" stroke-width="1.1"/>
<line x1="352.30" y1="281.49" x2="357.30" y2="281.49" stroke="#444" stroke-width="1.1"/>
<line x1="352.30" y1="303.49" x2="357.30" y2="303.49" stroke="#444" stroke-width="1.1"/>
<line x1="398.50" y1="294.56" x2="398.50" y2="316.24" stroke="#444" stroke-width="1.1"/>
<line x1="396.00" y1="294.56" x2="401.00" y2="294.56" stroke="#444" stroke-width="1.1"/>
<line x1="396.00" y1="316.24" x2="401.00" y2="316.24" stroke="#444" stroke-width="1.1"/>
<line x1="429.04" y1="307.31" x2="429.04" y2="332.49" stroke="#444" stroke-width="1.1"/>
<line x1="426.54" y1="307.31" x2="431.54" y2="307.31" stroke="#444" stroke-width="1.1"/>
<line x1="426.54" y1="332.49" x2="431.54" y2="332.49" stroke="#444" stroke-width="1.1"/>
<line x1="442.20" y1="334.09" x2="442.20" y2="375.21" stroke="#444" stroke-width="1.1"/>
<line x1="439.70" y1="334.09" x2="444.70" y2="334.09" stroke="#444" stroke-width="1.1"/>
<line x1="439.70" y1="375.21" x2="444.70" y2="375.21" stroke="#444" stroke-width="1.1"/>
<line x1="459.59" y1="386.68" x2="459.59" y2="404.21" stroke="#444" stroke-width="1.1"/>
<line x1="457.09" y1="386.68" x2="462.09" y2="386.68" stroke="#444" stroke-width="1.1"/>
<line x1="457.09" y1="404.21" x2="462.09" y2="404.21" stroke="#444" stroke-width="1.1"/>
<line x1="485.90" y1="415.88" x2="485.90" y2="426.72" stroke="#444" stroke-width="1.1"/>
<line x1="483.40" y1="415.88" x2="488.40" y2="415.88" stroke="#444" stroke-width="1.1"/>
<line x1="483.40" y1="426.72" x2="488.40" y2="426.72" stroke="#444" stroke-width="1.1"/>
<line x1="311.10" y1="336.32" x2="311.10" y2="355.76" stroke="#444" stroke-width="1.1"/>
<line x1="308.60" y1="336.32" x2="313.60" y2="336.32" stroke="#444" stroke-width="1.1"/>
<line x1="308.60" y1="355.76" x2="313.60" y2="355.76" stroke="#444" stroke-width="1.1"/>
<line x1="354.80" y1="346.07" x2="354.80" y2="359.71" stroke="#444" stroke-width="1.1"/>
<line x1="352.30" y1="346.07" x2="357.30" y2="346.07" stroke="#444" stroke-width="1.1"/>
<line x1="352.30" y1="359.71" x2="357.30" y2="359.71" stroke="#444" stroke-width="1.1"/>
<line x1="398.50" y1="341.42" x2="398.50" y2="364.37" stroke="#444" stroke-width="1.1"/>
<line x1="396.00" y1="341.42" x2="401.00" y2="341.42" stroke="#444" stroke-width="1.1"/>
<line x1="396.00" y1="364.37" x2="401.00" y2="364.37" stroke="#444" stroke-width="1.1"/>
<line x1="429.04" y1="366.28" x2="429.04" y2="385.41" stroke="#444" stroke-width="1.1"/>
<line x1="426.54" y1="366.28" x2="431.54" y2="366.28" stroke="#444" stroke-width="1.1"/>
<line x1="426.54" y1="385.41" x2="431.54" y2="385.41" stroke="#444" stroke-width="1.1"/>
<line x1="442.20" y1="398.03" x2="442.20" y2="410.14" stroke="#444" stroke-width="1.1"/>
<line x1="439.70" y1="398.03" x2="444.70" y2="398.03" stroke="#444" stroke-width="1.1"/>
<line x1="439.70" y1="410.14" x2="444.70" y2="410.14" stroke="#444" stroke-width="1.1"/>
<line x1="459.59" y1="412.25" x2="459.59" y2="425.00" stroke="#444" stroke-width="1.1"/>
<line x1="457.09" y1="412.25" x2="462.09" y2="412.25" stroke="#444" stroke-width="1.1"/>
<line x1="457.09" y1="425.00" x2="462.09" y2="425.00" stroke="#444" stroke-width="1.1"/>
<line x1="485.90" y1="427.48" x2="485.90" y2="437.68" stroke="#444" stroke-width="1.1"/>
<line x1="483.40" y1="427.48" x2="488.40" y2="427.48" stroke="#444" stroke-width="1.1"/>
<line x1="483.40" y1="437.68" x2="488.40" y2="437.68" stroke="#444" stroke-width="1.1"/>
<polygon points="311.10,298.35 314.65,292.05 307.55,292.05" fill="#a8a8a8" stroke="#111" stroke-width="1.0" stroke-linejoin="miter"/>
<polygon points="354.80,295.80 358.35,289.50 351.25,289.50" fill="#a8a8a8" stroke="#111" stroke-width="1.0" stroke-linejoin="miter"/>
<polygon points="398.50,308.55 402.05,302.25 394.95,302.25" fill="#a8a8a8" stroke="#111" stroke-width="1.0" stroke-linejoin="miter"/>
<polygon points="429.04,324.49 432.59,318.19 425.49,318.19" fill="#a8a8a8" stroke="#111" stroke-width="1.0" stroke-linejoin="miter"/>
<polygon points="442.20,358.27 445.75,351.98 438.65,351.98" fill="#a8a8a8" stroke="#111" stroke-width="1.0" stroke-linejoin="miter"/>
<polygon points="459.59,399.07 463.14,392.77 456.04,392.77" fill="#a8a8a8" stroke="#111" stroke-width="1.0" stroke-linejoin="miter"/>
<polygon points="485.90,424.77 489.45,418.47 482.35,418.47" fill="#a8a8a8" stroke="#111" stroke-width="1.0" stroke-linejoin="miter"/>
<circle cx="311.10" cy="346.20" r="3.4" fill="#fff" stroke="#111" stroke-width="1.2"/>
<circle cx="354.80" cy="352.89" r="3.4" fill="#fff" stroke="#111" stroke-width="1.2"/>
<circle cx="398.50" cy="352.89" r="3.4" fill="#fff" stroke="#111" stroke-width="1.2"/>
<circle cx="429.04" cy="375.21" r="3.4" fill="#fff" stroke="#111" stroke-width="1.2"/>
<circle cx="442.20" cy="403.77" r="3.4" fill="#fff" stroke="#111" stroke-width="1.2"/>
<circle cx="459.59" cy="418.62" r="3.4" fill="#fff" stroke="#111" stroke-width="1.2"/>
<circle cx="485.90" cy="432.58" r="3.4" fill="#fff" stroke="#111" stroke-width="1.2"/>
<line x1="313.20" y1="413.40" x2="333.70" y2="413.40" stroke="#111" stroke-width="1.5"/>
<polygon points="323.45,416.55 327.00,410.25 319.90,410.25" fill="#a8a8a8" stroke="#111" stroke-width="1.0" stroke-linejoin="miter"/>
<text x="339.50" y="416.40" font-size="9.7" text-anchor="start" letter-spacing="-0.2">Suspension 16 h</text>
<line x1="313.20" y1="425.80" x2="333.70" y2="425.80" stroke="#111" stroke-width="1.5"/>
<circle cx="323.45" cy="425.80" r="3.4" fill="#fff" stroke="#111" stroke-width="1.2"/>
<text x="339.50" y="428.80" font-size="9.7" text-anchor="start" letter-spacing="-0.2">Control</text>
</svg>
</body></html>
